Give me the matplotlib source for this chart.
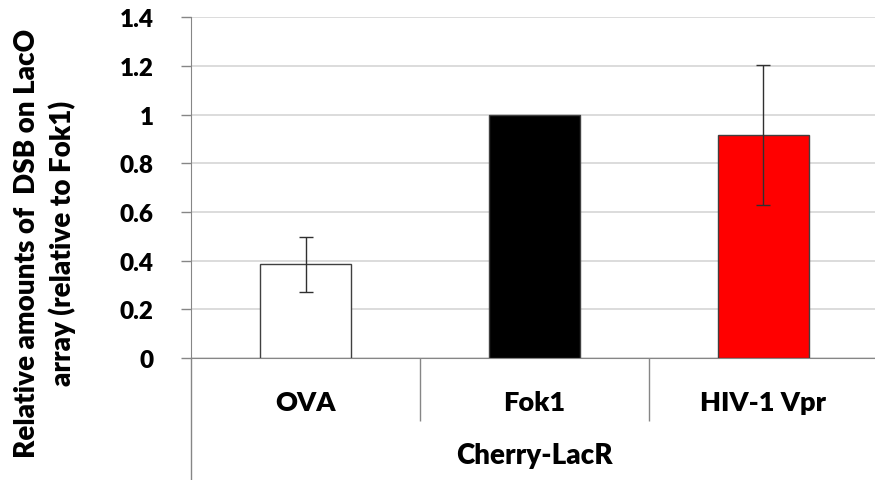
import matplotlib.pyplot as plt
from matplotlib.lines import Line2D
from matplotlib.transforms import blended_transform_factory

# data
categories = ["OVA", "Fok1", "HIV-1 Vpr"]
values = [0.385, 1.0, 0.917]
errors = [0.114, 0.0, 0.287]
bar_colors = ["white", "black", "#ff0000"]
group_label = "Cherry-LacR"
y_ticks = [0, 0.2, 0.4, 0.6, 0.8, 1, 1.2, 1.4]
y_tick_labels = ["0", "0.2", "0.4", "0.6", "0.8", "1", "1.2", "1.4"]

plt.rcParams['font.family'] = ['Lato', 'DejaVu Sans']
plt.rcParams['font.weight'] = 'bold'

W, H = 875, 481
fig = plt.figure(figsize=(W / 100, H / 100), dpi=100)
x0, x1, y0, y1 = 191, 878, 359, 18.3
ax = fig.add_axes([x0 / W, 1 - y0 / H, (x1 - x0) / W, (y0 - y1) / H])

grid_c = "#d9d9d9"
axis_c = "#868686"
fw = "heavy"

xs = list(range(len(categories)))
ax.bar(xs, values, width=0.4, color=bar_colors, edgecolor="#404040",
       linewidth=1.0, zorder=3)
ax.errorbar([x for x, e in zip(xs, errors) if e > 0],
            [v for v, e in zip(values, errors) if e > 0],
            yerr=[e for e in errors if e > 0], fmt="none",
            ecolor="#303030", elinewidth=1.0, capsize=5, capthick=1.0, zorder=4)

ax.set_xlim(-0.5, 2.5)
ax.set_ylim(0, 1.4)
ax.set_yticks(y_ticks)
ax.set_yticklabels(y_tick_labels, fontsize=17.5, fontweight=fw)
ax.yaxis.grid(True, color=grid_c, linewidth=1.3, zorder=0)
ax.set_axisbelow(True)
ax.tick_params(axis="y", length=7, color=axis_c, width=1.0, pad=20)

# category separators below the axis
ax.set_xticks([0.5, 1.5])
ax.set_xticklabels([])
ax.tick_params(axis="x", length=45, color=axis_c, width=1.0)

for s in ["top", "right"]:
    ax.spines[s].set_visible(False)
ax.spines["left"].set_color(axis_c)
ax.spines["bottom"].set_color(axis_c)

tr = blended_transform_factory(ax.transData, ax.transAxes)
for x, lab in zip(xs, categories):
    ax.text(x, (y0 - 403) / (y0 - y1), lab, transform=tr, ha="center",
            va="center", fontsize=19.5, fontweight=fw)
ax.text(1, (y0 - 456) / (y0 - y1), group_label, transform=tr, ha="center",
        va="center", fontsize=20, fontweight=fw)

# left spine continues down through the label rows
fig.add_artist(Line2D([x0 / W, x0 / W], [0, 1 - y0 / H], color=axis_c,
                      linewidth=1.0))

fig.text(45 / W, 1 - 243 / H,
         "Relative amounts of  DSB on LacO\narray (relative to Fok1)",
         rotation=90, ha="center", va="center", multialignment="center",
         fontsize=20, fontweight=fw, linespacing=1.35)

fig.savefig("out.png", dpi=100)
